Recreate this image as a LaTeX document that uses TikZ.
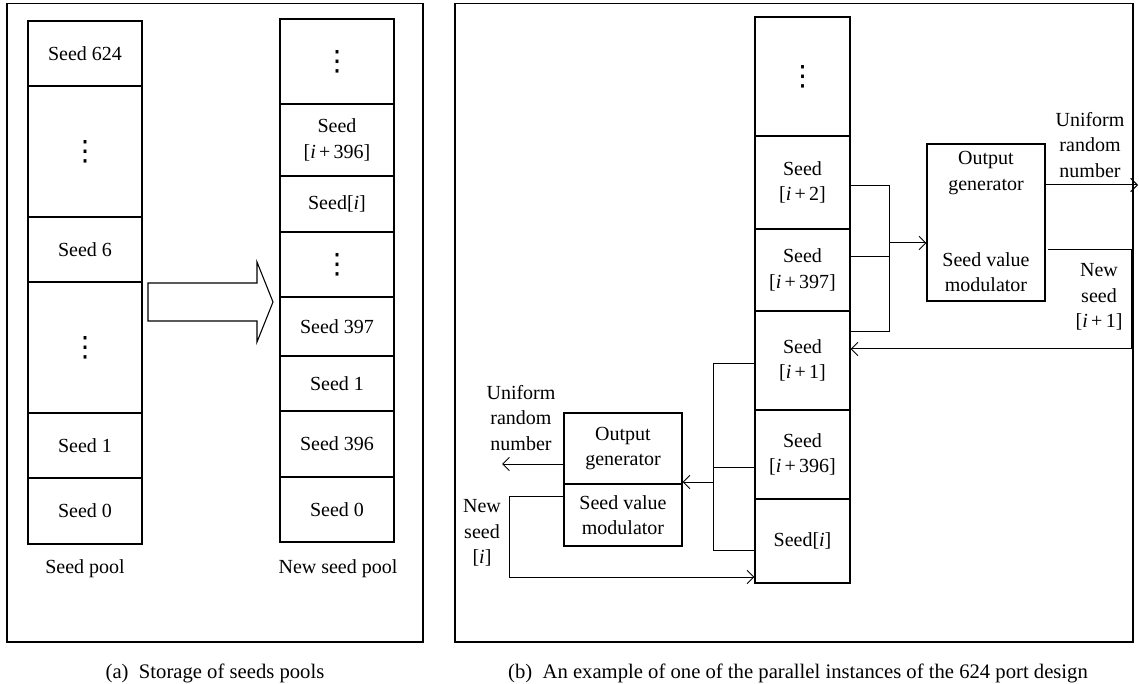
\documentclass[tikz,border=0pt]{standalone}
\usepackage{fontspec}
\setmainfont{Liberation Serif}
\newfontfamily\dotfont{DejaVu Sans}
\usetikzlibrary{arrows.meta}
\newcommand\seeddots{{\dotfont\fontsize{21}{21}\selectfont ⋮}}
\newcommand\ii{\textit{i}}
\tikzset{
  cell/.style={draw, line width=0.8pt, inner sep=0pt, align=center, font=\fontsize{15}{19}\selectfont},
  txt/.style={align=center, inner sep=0pt, font=\fontsize{15}{19}\selectfont},
  captxt/.style={inner sep=0pt, font=\fontsize{15.5}{18}\selectfont},
  wire/.style={line width=0.75pt},
  feed/.style={wire, -{Straight Barb[length=5pt,width=10pt]}},
}
\begin{document}
\begin{tikzpicture}[x=0.75pt,y=0.75pt,yscale=-1,xscale=1]
\useasboundingbox (0,0) rectangle (1139,684);

%Shape: Frames
\draw[line width=0.8pt] (7,3.5) rectangle (423,642);
\draw[line width=0.8pt] (455,3.5) rectangle (1133,642);

% Seed pool
\node[cell, minimum width=85.5pt, minimum height=48.75pt] (a624) at (85,53.5) {Seed 624};
\node[cell, minimum width=85.5pt, minimum height=98.25pt] (adotsA) at (85,151.5) {\seeddots};
\node[cell, minimum width=85.5pt, minimum height=48.75pt] (a6) at (85,249.5) {Seed 6};
\node[cell, minimum width=85.5pt, minimum height=98.25pt] (adotsB) at (85,347.5) {\seeddots};
\node[cell, minimum width=85.5pt, minimum height=48.75pt] (a1) at (85,445.5) {Seed 1};
\node[cell, minimum width=85.5pt, minimum height=49.5pt] (a0) at (85,511) {Seed 0};
% Text Node
\node[txt] (apool) at (85,569) {Seed pool};

% New seed pool
\node[cell, minimum width=85.5pt, minimum height=63.75pt] (bdotsA) at (337,61.5) {\seeddots};
\node[cell, minimum width=85.5pt, minimum height=54pt] (bi396) at (337,140) {Seed\\{[}\ii\,+\,396{]}};
\node[cell, minimum width=85.5pt, minimum height=42pt] (bi) at (337,204) {Seed{[}\ii{]}};
\node[cell, minimum width=85.5pt, minimum height=48.75pt] (bdotsB) at (337,264.5) {\seeddots};
\node[cell, minimum width=85.5pt, minimum height=44.25pt] (b397) at (337,326.5) {Seed 397};
\node[cell, minimum width=85.5pt, minimum height=41.25pt] (b1) at (337,383.5) {Seed 1};
\node[cell, minimum width=85.5pt, minimum height=49.5pt] (b396) at (337,444) {Seed 396};
\node[cell, minimum width=85.5pt, minimum height=48.75pt] (b0) at (337,509.5) {Seed 0};
% Text Node
\node[txt] (bpool) at (338,569) {New seed pool};

%Shape: Big arrow
\draw[line width=0.8pt] (148,283) -- (257,283) -- (257,262) -- (273,302) -- (257,342) -- (257,321) -- (148,321) -- cycle;

% Parallel instance column
\node[cell, minimum width=71.25pt, minimum height=89.25pt] (cdots) at (802.5,76.5) {\seeddots};
\node[cell, minimum width=71.25pt, minimum height=69.75pt] (ci2) at (802.5,182.5) {Seed\\{[}\ii\,+\,2{]}};
\node[cell, minimum width=71.25pt, minimum height=61.5pt] (ci397) at (802.5,270) {Seed\\{[}\ii\,+\,397{]}};
\node[cell, minimum width=71.25pt, minimum height=74.25pt] (ci1) at (802.5,360.5) {Seed\\{[}\ii\,+\,1{]}};
\node[cell, minimum width=71.25pt, minimum height=66.75pt] (ci396) at (802.5,454.5) {Seed\\{[}\ii\,+\,396{]}};
\node[cell, minimum width=71.25pt, minimum height=63pt] (ci) at (802.5,541) {Seed{[}\ii{]}};

% Upper generator
\node[cell, minimum width=88.5pt, minimum height=117.75pt] (genA) at (986,222.5) {};
\node[txt] (ogA) at (986,173) {Output\\generator};
\node[txt] (svA) at (986,272) {Seed value\\modulator};

% Lower generator
\node[cell, minimum width=88.5pt, minimum height=53.25pt] (ogB) at (623,448.5) {Output\\generator};
\node[cell, minimum width=88.5pt, minimum height=46.5pt] (svB) at (623,515) {Seed value\\modulator};

%Connectors: upper (yshift runs downward here, yscale=-1)
\coordinate (jA) at (889,243);
\coordinate (outA) at (1138,185);
\coordinate (nsA) at (1131,349);
\draw[wire] ([yshift=1.9pt]ci2.east) -| (jA);
\draw[wire] ([yshift=-9.75pt]ci397.east) -- ([yshift=-9.75pt]ci397.east -| jA);
\draw[wire] ([yshift=-21.4pt]ci1.east) -| (jA);
\draw[feed] (jA) -- (genA.west |- jA);
\draw[feed] (genA.east |- outA) -- (outA);
\draw[feed] ([xshift=1.5pt,yshift=20.6pt]genA.east) -| (nsA) -- (ci1.east |- nsA);
% Text Node
\node[txt] (uA) at (1090,145) {Uniform\\random\\number};
\node[txt] (nA) at (1099,297) {New\\seed\\{[}\ii\,+\,1{]}};

%Connectors: lower
\coordinate (jB) at (713,482);
\coordinate (outB) at (502,464);
\coordinate (nsB) at (509,577);
\draw[wire] ([yshift=2.6pt]ci1.west) -| (jB);
\draw[wire] ([yshift=10.1pt]ci396.west) -- ([yshift=10.1pt]ci396.west -| jB);
\draw[wire] ([yshift=6.75pt]ci.west) -| (jB);
\draw[feed] (jB) -- (ogB.east |- jB);
\draw[feed] (ogB.west |- outB) -- (outB);
\draw[feed] ([yshift=-14.25pt]svB.west) -| (nsB) -- (ci.west |- nsB);
% Text Node
\node[txt] (uB) at (521,418) {Uniform\\random\\number};
\node[txt] (nB) at (482,533) {New\\seed\\{[}\ii{]}};

% Captions
\node[captxt] (capA) at (215,673) {(a)\enspace Storage of seeds pools};
\node[captxt] (capB) at (798,673) {(b)\enspace An example of one of the parallel instances of the 624 port design};

\end{tikzpicture}
\end{document}
